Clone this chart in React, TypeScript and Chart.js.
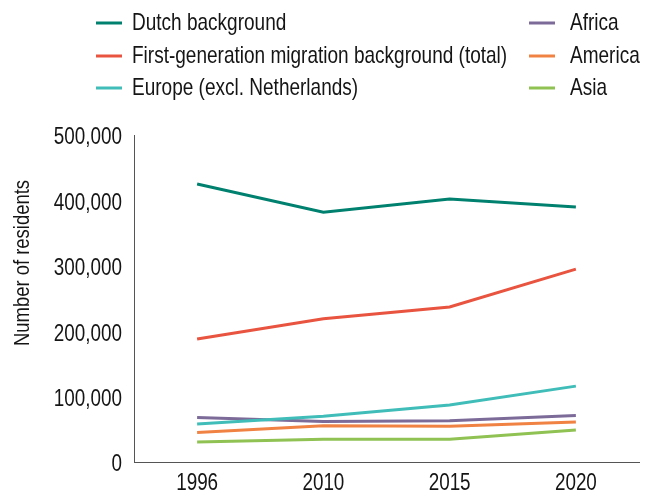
import React, { useEffect, useRef } from "react";
import { Chart, registerables } from "chart.js";

Chart.register(...registerables);

const years = ["1996", "2010", "2015", "2020"];
const seriesNames = [
  "Dutch background",
  "First-generation migration background (total)",
  "Europe (excl. Netherlands)",
  "Africa",
  "America",
  "Asia",
];
const dutch = [425000, 382000, 402000, 390000];
const firstGen = [188000, 219000, 237000, 295000];
const europe = [58000, 70000, 87000, 116000];
const africa = [68000, 62000, 63000, 71000];
const america = [45000, 55500, 54500, 61000];
const asia = [30500, 34700, 34700, 49000];
const yTickValues = [0, 100000, 200000, 300000, 400000, 500000];
const yTitle = "Number of residents";

const colors = ["#00806e", "#e8543f", "#40bdb8", "#7c6a99", "#f08244", "#8fc253"];
const FONT = '"Liberation Sans", Arial, sans-serif';
const SQUEEZE = 0.82;
const TEXT = "#151515";

function drawNarrow(
  ctx: CanvasRenderingContext2D,
  text: string,
  x: number,
  y: number,
  size: number,
  align: CanvasTextAlign,
  baseline: CanvasTextBaseline
) {
  ctx.save();
  ctx.font = `${size}px ${FONT}`;
  ctx.fillStyle = TEXT;
  ctx.textAlign = align;
  ctx.textBaseline = baseline;
  ctx.translate(x, y);
  ctx.scale(SQUEEZE, 1);
  ctx.fillText(text, 0, 0);
  ctx.restore();
}

const textPlugin = {
  id: "narrowText",
  afterDraw(chart: any) {
    const ctx: CanvasRenderingContext2D = chart.ctx;
    // legend
    const cols = [
      { lineX: 96, textX: 132 },
      { lineX: 529, textX: 570 },
    ];
    const rows = [24, 57, 89];
    chart.data.datasets.forEach((d: any, i: number) => {
      const col = cols[Math.floor(i / 3)];
      const y = rows[i % 3];
      ctx.save();
      ctx.strokeStyle = d.borderColor;
      ctx.lineWidth = 3;
      ctx.beginPath();
      ctx.moveTo(col.lineX, y - 1);
      ctx.lineTo(col.lineX + 26, y - 1);
      ctx.stroke();
      ctx.restore();
      drawNarrow(ctx, d.label, col.textX, y, 23.2, "left", "middle");
    });
    // y ticks
    const ys = chart.scales.y;
    ys.ticks.forEach((t: any) => {
      const py = ys.getPixelForValue(t.value);
      drawNarrow(ctx, Number(t.value).toLocaleString("en-US"), ys.right - 12, py + 3, 23, "right", "middle");
    });
    // x ticks
    const xs = chart.scales.x;
    xs.ticks.forEach((t: any, i: number) => {
      const px = xs.getPixelForTick(i);
      drawNarrow(ctx, String(chart.data.labels[i]), px, xs.top + 10, 23, "center", "top");
    });
    // y title
    ctx.save();
    ctx.font = `22.5px ${FONT}`;
    ctx.fillStyle = TEXT;
    ctx.textAlign = "center";
    ctx.textBaseline = "middle";
    ctx.translate(23, 263);
    ctx.rotate(-Math.PI / 2);
    ctx.scale(SQUEEZE, 1);
    ctx.fillText(yTitle, 0, 0);
    ctx.restore();
  },
};

export default function App() {
  const ref = useRef<HTMLCanvasElement | null>(null);
  useEffect(() => {
    if (!ref.current) return;
    const values = [dutch, firstGen, europe, africa, america, asia];
    const chart = new Chart(ref.current, {
      type: "line",
      data: {
        labels: years,
        datasets: values.map((v, i) => ({
          label: seriesNames[i],
          data: v,
          borderColor: colors[i],
          backgroundColor: colors[i],
          borderWidth: 3,
          pointRadius: 0,
          tension: 0,
          fill: false,
        })),
      },
      options: {
        animation: false,
        responsive: true,
        maintainAspectRatio: false,
        layout: { padding: { top: 135, right: 15, left: 0, bottom: 0 } },
        plugins: {
          legend: { display: false },
          tooltip: { enabled: false },
        },
        scales: {
          x: {
            offset: true,
            grid: { display: false, drawTicks: false },
            border: { display: true, color: "#555", width: 1 },
            ticks: { display: false },
            afterFit(scale: any) {
              scale.height = 31;
            },
          },
          y: {
            min: 0,
            max: 500000,
            afterBuildTicks(scale: any) {
              scale.ticks = yTickValues.map((v) => ({ value: v }));
            },
            grid: { display: false, drawTicks: false },
            border: { display: true, color: "#555", width: 1 },
            ticks: { display: false },
            afterFit(scale: any) {
              scale.width = 134;
            },
          },
        },
      },
      plugins: [textPlugin],
    });
    return () => chart.destroy();
  }, []);
  return (
    <div style={{ position: "fixed", left: 0, top: 0, width: 654, height: 493, background: "#fff" }}>
      <canvas ref={ref} />
    </div>
  );
}
